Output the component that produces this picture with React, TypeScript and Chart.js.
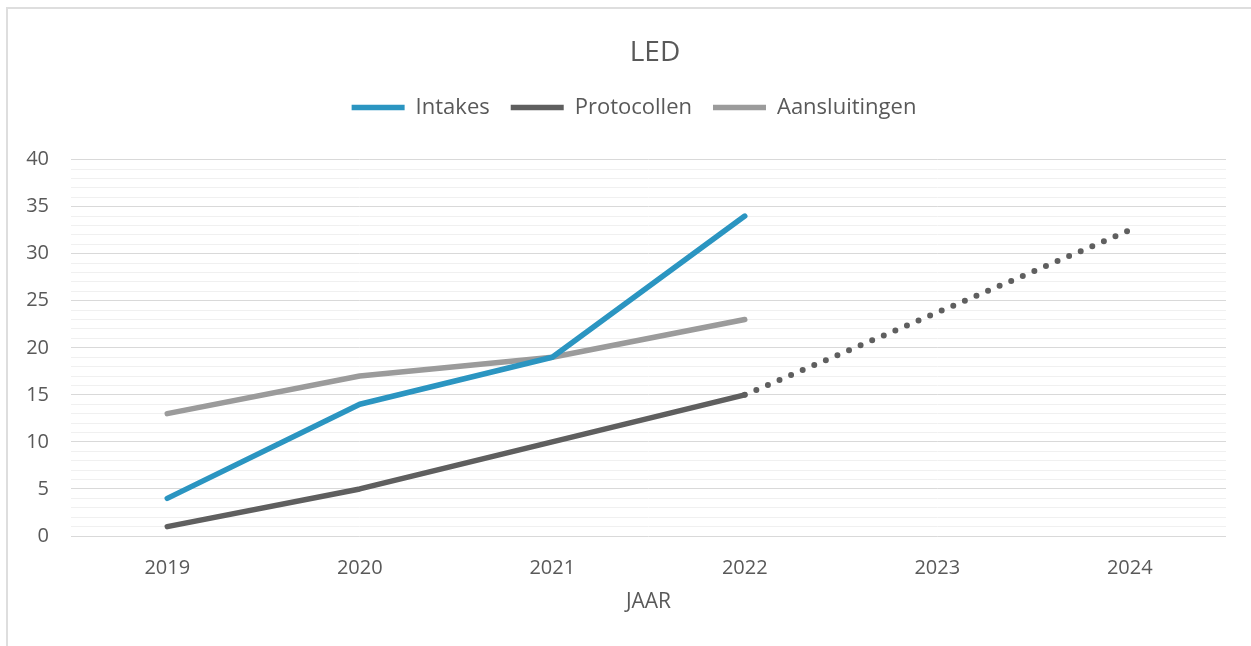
import React, { useEffect, useRef } from "react";
import { Chart, registerables } from "chart.js";

Chart.register(...registerables);

const years = ["2019", "2020", "2021", "2022", "2023", "2024"];
const intakes = [4, 14, 19, 34, null, null];
const protocollen = [1, 5, 10, 15, null, null];
const aansluitingen = [13, 17, 19, 23, null, null];
const protocollenTrend = [null, null, null, 15, null, 32.5];

const FONT = "'Open Sans', 'Noto Sans', sans-serif";
const TEXT = "#595959";

export default function App() {
  const ref = useRef<HTMLCanvasElement | null>(null);

  useEffect(() => {
    if (!ref.current) return;
    const spacer = {
      id: "spacer",
      afterInit(chart: any) {
        const lg = chart.legend;
        if (lg && !lg.__patched) {
          const orig = lg.fit.bind(lg);
          lg.fit = function () {
            orig();
            this.height += 31;
          };
          lg.__patched = true;
        }
      },
      afterLayout(chart: any) {
        const t = chart.titleBlock;
        if (t) {
          t.left += 33;
          t.right += 33;
        }
        const lg = chart.legend;
        if (lg) {
          lg.left += 12;
          lg.right += 12;
        }
      },
    };
    const chart = new Chart(ref.current, {
      type: "line",
      data: {
        labels: years,
        datasets: [
          {
            label: "Intakes",
            data: intakes,
            borderColor: "#2b95c1",
            backgroundColor: "#2b95c1",
            borderWidth: 5.5,
            borderCapStyle: "round",
            borderJoinStyle: "round",
            pointRadius: 0,
            pointHoverRadius: 0,
          },
          {
            label: "Protocollen",
            data: protocollen,
            borderColor: "#5f5f5f",
            backgroundColor: "#5f5f5f",
            borderWidth: 5.5,
            borderCapStyle: "round",
            borderJoinStyle: "round",
            pointRadius: 0,
            pointHoverRadius: 0,
          },
          {
            label: "Aansluitingen",
            data: aansluitingen,
            borderColor: "#9b9b9b",
            backgroundColor: "#9b9b9b",
            borderWidth: 5.5,
            borderCapStyle: "round",
            borderJoinStyle: "round",
            pointRadius: 0,
            pointHoverRadius: 0,
          },
          {
            label: "Trend",
            data: protocollenTrend,
            borderColor: "#5f5f5f",
            borderWidth: 6,
            borderCapStyle: "round",
            borderDash: [0, 12.6],
            spanGaps: true,
            pointRadius: 0,
            pointHoverRadius: 0,
          },
        ],
      },
      options: {
        responsive: false,
        animation: false,
        layout: { padding: { left: 10, right: 25, top: 0, bottom: 31 } },
        plugins: {
          tooltip: { enabled: false },
          title: {
            display: true,
            text: "LED",
            color: TEXT,
            font: { family: FONT, size: 28, weight: "500" },
            padding: { top: 27, bottom: 6 },
          },
          legend: {
            display: true,
            position: "top",
            labels: {
              filter: (item: any) => item.text !== "Trend",
              usePointStyle: true,
              pointStyle: "line",
              pointStyleWidth: 53,
              color: TEXT,
              font: { family: FONT, size: 22 },
              padding: 21,
            },
          },
        },
        scales: {
          x: {
            type: "category",
            offset: true,
            grid: { display: false },
            border: { display: false },
            ticks: {
              color: TEXT,
              font: { family: FONT, size: 20 },
              padding: 12,
              maxRotation: 0,
            },
            title: {
              display: true,
              text: "JAAR",
              color: TEXT,
              font: { family: FONT, size: 21 },
              padding: 0,
            },
            afterFit: (s: any) => {
              s.height = 79;
            },
          },
          y: {
            min: 0,
            max: 40,
            border: { display: false },
            grid: {
              drawTicks: false,
              lineWidth: 1,
              color: (ctx: any) =>
                ctx.tick && ctx.tick.value % 5 === 0 ? "#d9d9d9" : "#f0f0f0",
            },
            ticks: {
              stepSize: 1,
              autoSkip: false,
              maxTicksLimit: 100,
              padding: 22,
              color: TEXT,
              font: { family: FONT, size: 20 },
              callback: (v: any) => (Number(v) % 5 === 0 ? String(v) : ""),
            },
            afterFit: (s: any) => {
              s.width = 53;
            },
          },
        },
      },
      plugins: [spacer],
    });
    return () => chart.destroy();
  }, []);

  return (
    <div
      style={{
        position: "absolute",
        left: 6,
        top: 7,
        width: 1245,
        height: 639,
        borderTop: "2px solid #dedede",
        borderLeft: "2px solid #dedede",
        background: "#fff",
      }}
    >
      <canvas ref={ref} width={1243} height={637} style={{ display: "block" }} />
    </div>
  );
}
